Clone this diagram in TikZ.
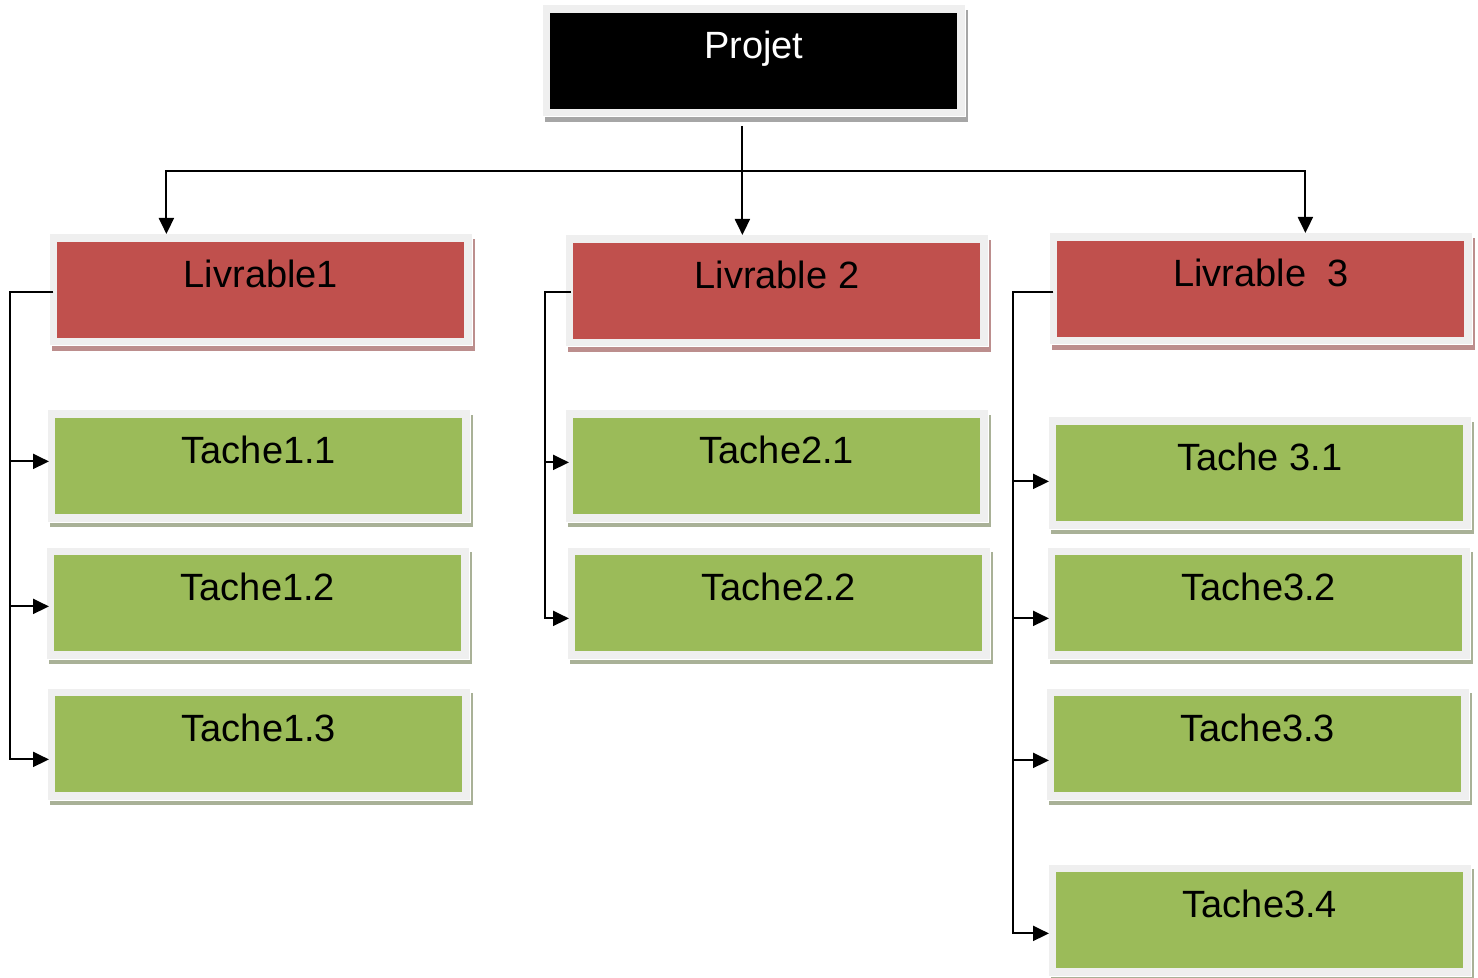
\documentclass[tikz,border=0pt]{standalone}
\usepackage{fontspec}
\setmainfont{Liberation Sans}
\usetikzlibrary{calc}
\usetikzlibrary{arrows.meta}
\definecolor{noir}{HTML}{000000}
\definecolor{rouge}{HTML}{C0504D}
\definecolor{vert}{HTML}{9BBB59}
\definecolor{cadre}{HTML}{EFEFEF}
\definecolor{ombrenoir}{HTML}{A6A6A6}
\definecolor{ombrerouge}{HTML}{BC8E8D}
\definecolor{ombrevert}{HTML}{A9B197}
\tikzset{
  bloc/.style={anchor=north west, minimum width=203.5pt, inner xsep=0pt, inner ysep=0pt,
    text height=22.5pt, text depth=25.5pt, font=\fontsize{19}{21}\selectfont},
  fleche/.style={line width=1pt, -{Triangle[length=8pt,width=7.5pt]}}
}
\newcommand{\boite}[6]{ \fill[ombre#4] (#2-5,#3-3) rectangle (#2+418,#3+109);
  \filldraw[fill=cadre, draw=white, line width=0.5pt] (#2-8,#3-8) rectangle (#2+415,#3+104);
  \node[bloc, fill=#4, text=#5] (#1) at (#2,#3) {#6};}

\begin{document}
\begin{tikzpicture}[x=0.5pt,y=-0.5pt]
        \useasboundingbox (0,0) rectangle (1478,978);
        % projet
        \boite{projet}{550}{13}{noir}{white}{Projet}
        % livrables
        \boite{liv1}{57}{242}{rouge}{black}{Livrable1}
        \boite{liv2}{573}{243}{rouge}{black}{Livrable 2}
        \boite{liv3}{1057}{241}{rouge}{black}{Livrable~~3}
        % taches
        \boite{t11}{55}{418}{vert}{black}{Tache1.1}
        \boite{t12}{54}{555}{vert}{black}{Tache1.2}
        \boite{t13}{55}{696}{vert}{black}{Tache1.3}
        \boite{t21}{573}{418}{vert}{black}{Tache2.1}
        \boite{t22}{575}{555}{vert}{black}{Tache2.2}
        \boite{t31}{1056}{425}{vert}{black}{Tache 3.1}
        \boite{t32}{1055}{555}{vert}{black}{Tache3.2}
        \boite{t33}{1054}{696}{vert}{black}{Tache3.3}
        \boite{t34}{1056}{872}{vert}{black}{Tache3.4}

        % projet vers livrables
        \draw[fleche] ($(projet.south)+(-11.5,16)$) -- ($(liv2.north)+(-34.5,-8)$);
        \draw[fleche] ($(projet.south)+(-11.5,61)$) -| ($(liv1.north)+(-94.5,-8)$);
        \draw[fleche] ($(projet.south)+(-11.5,61)$) -| ($(liv3.north)+(44.5,-8)$);

        % livrable 1
        \draw[fleche] ($(liv1.west)+(-4,2)$) -- ++(-43,0) |- ($(t11.west)+(-6,-5)$);
        \draw[fleche] ($(liv1.west)+(-4,2)$) -- ++(-43,0) |- ($(t12.west)+(-5,3)$);
        \draw[fleche] ($(liv1.west)+(-4,2)$) -- ++(-43,0) |- ($(t13.west)+(-6,15)$);
        % livrable 2
        \draw[fleche] ($(liv2.west)+(-2,1)$) -- ++(-26,0) |- ($(t21.west)+(-4,-4)$);
        \draw[fleche] ($(liv2.west)+(-2,1)$) -- ++(-26,0) |- ($(t22.west)+(-6,15)$);
        % livrable 3
        \draw[fleche] ($(liv3.west)+(-4,3)$) -- ++(-40,0) |- ($(t31.west)+(-7,8)$);
        \draw[fleche] ($(liv3.west)+(-4,3)$) -- ++(-40,0) |- ($(t32.west)+(-6,15)$);
        \draw[fleche] ($(liv3.west)+(-4,3)$) -- ++(-40,0) |- ($(t33.west)+(-5,16)$);
        \draw[fleche] ($(liv3.west)+(-4,3)$) -- ++(-40,0) |- ($(t34.west)+(-7,13)$);
\end{tikzpicture}
\end{document}
